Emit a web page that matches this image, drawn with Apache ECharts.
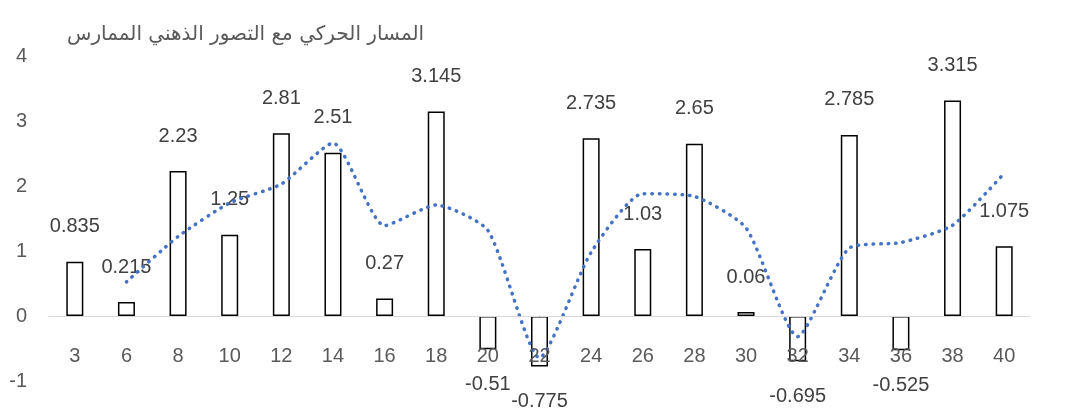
<!DOCTYPE html>
<html>
<head>
<meta charset="utf-8">
<script src="https://cdn.jsdelivr.net/npm/echarts@6/dist/echarts.min.js"></script>
<style>html,body{margin:0;padding:0;background:#fff;}#c{width:1078px;height:414px;}</style>
</head>
<body>
<div id="c"></div>
<script>
var titleText = "المسار الحركي مع التصور الذهني الممارس";
var categories = ["3","6","8","10","12","14","16","18","20","22","24","26","28","30","32","34","36","38","40"];
var barValues = [0.835,0.215,2.23,1.25,2.81,2.51,0.27,3.145,-0.51,-0.775,2.735,1.03,2.65,0.06,-0.695,2.785,-0.525,3.315,1.075];
var trendValues = [null,0.525,1.2225,1.74,2.03,2.66,1.39,1.7075,1.3175,-0.6425,0.98,1.8825,1.84,1.355,-0.3175,1.045,1.13,1.395,2.195];
var yTicks = {min:-1, max:4, interval:1};

var gridH = 325;
var zeroOffset = -gridH * (0 - yTicks.min) / (yTicks.max - yTicks.min);
var font = "'Liberation Sans', Arial, sans-serif";
var chart = echarts.init(document.getElementById('c'));
chart.setOption({
  animation:false,
  backgroundColor:'#fff',
  title:{text:titleText,left:62,top:20,textStyle:{fontFamily:"'DejaVu Sans'",fontSize:20,fontWeight:'normal',color:'#595959'}},
  grid:{left:49,top:56,width:981,height:gridH,outerBoundsMode:'none',containLabel:false},
  xAxis:{type:'category',data:categories,position:'bottom',offset:zeroOffset,z:10,
    axisLine:{onZero:false,lineStyle:{color:'#d9d9d9',width:1}},
    axisTick:{show:false},
    axisLabel:{margin:30,fontSize:20,color:'#595959',fontFamily:font}},
  yAxis:{type:'value',min:yTicks.min,max:yTicks.max,interval:yTicks.interval,
    splitLine:{show:false},axisLine:{show:false},axisTick:{show:false},
    axisLabel:{margin:22,fontSize:20,color:'#595959',fontFamily:font}},
  series:[
    {type:'bar',barWidth:17,
     data:barValues.map(function(v){return {value:v,label:{position:v<0?'bottom':'top'}};}),
     itemStyle:{color:'#fff',borderColor:'#000',borderWidth:1.5},
     label:{show:true,distance:25,fontSize:20,color:'#404040',fontFamily:font,formatter:function(p){return String(p.value);}}},
    {type:'line',data:trendValues,smooth:0.2,symbol:'none',connectNulls:false,
     lineStyle:{color:'#4472C4',width:3.5,type:[0.5,7],cap:'round'},z:5}
  ]
});
</script>
</body>
</html>
